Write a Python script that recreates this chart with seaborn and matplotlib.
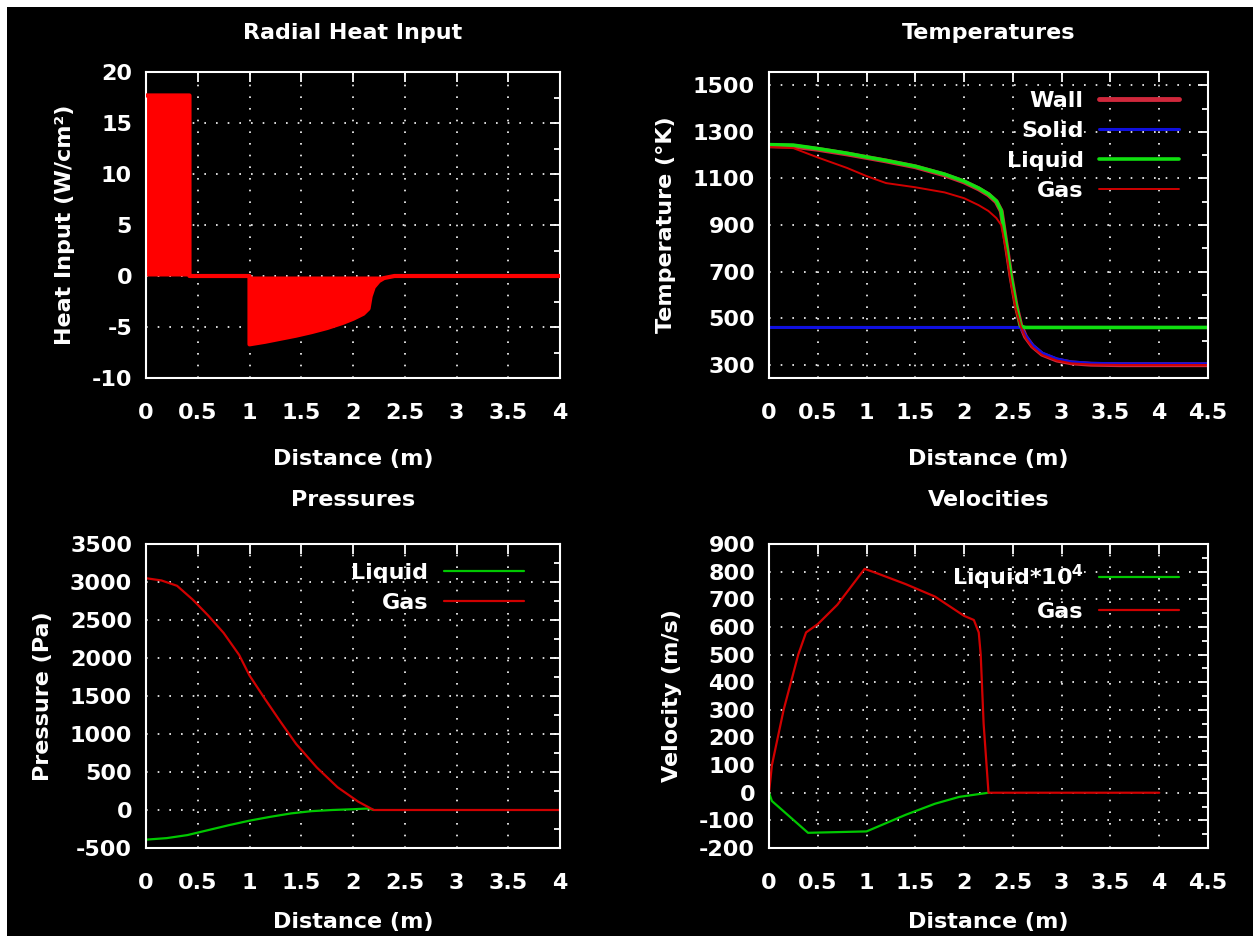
import numpy as np
import pandas as pd
import matplotlib
matplotlib.use("Agg")
import matplotlib.pyplot as plt
from matplotlib.patches import Rectangle
from matplotlib.ticker import FuncFormatter, MultipleLocator, FixedLocator
import seaborn as sns

# ---------------- data ----------------
# Radial heat input (W/cm^2)
heat_x = [0.0, 0.42, 0.42, 1.0, 1.0, 1.15, 1.3, 1.45, 1.6, 1.75, 1.9, 2.0, 2.1, 2.15, 2.17, 2.2, 2.25, 2.3, 2.4, 4.0]
heat_y = [17.7, 17.7, 0.0, 0.0, -6.7, -6.45, -6.15, -5.85, -5.5, -5.1, -4.6, -4.2, -3.7, -3.2, -2.0, -1.1, -0.5, -0.2, 0.0, 0.0]

# Temperatures (K)
temp_x = [0.0, 0.25, 0.5, 0.8, 1.0, 1.2, 1.5, 1.8, 2.0, 2.15, 2.25, 2.33, 2.38, 2.43, 2.48, 2.53, 2.58, 2.63, 2.7, 2.8, 2.95, 3.1, 3.3, 3.6, 4.0, 4.5]
wall_t = [1240, 1238, 1225, 1205, 1190, 1175, 1150, 1115, 1085, 1055, 1030, 1000, 960, 820, 680, 560, 470, 420, 380, 345, 320, 308, 302, 300, 300, 300]
solid_t = [460, 460, 460, 460, 460, 460, 460, 460, 460, 460, 460, 460, 460, 460, 460, 460, 460, 425, 385, 350, 325, 312, 306, 304, 304, 304]
liquid_t = [1245, 1243, 1228, 1208, 1192, 1177, 1152, 1118, 1088, 1058, 1033, 1003, 962, 820, 680, 560, 465, 460, 460, 460, 460, 460, 460, 460, 460, 460]
gas_t = [1235, 1230, 1190, 1145, 1110, 1080, 1062, 1040, 1015, 985, 960, 930, 900, 790, 650, 540, 465, 415, 375, 342, 318, 306, 301, 299, 299, 299]
temp_ticks = [300, 500, 700, 900, 1100, 1300, 1500]

# Pressures (Pa)
pg_x = [0.0, 0.15, 0.3, 0.45, 0.6, 0.75, 0.9, 1.0, 1.15, 1.3, 1.45, 1.65, 1.85, 2.05, 2.2, 4.0]
pg_y = [3050, 3020, 2950, 2770, 2560, 2330, 2040, 1770, 1460, 1160, 870, 560, 300, 110, 0, 0]
pl_x = [0.0, 0.2, 0.4, 0.6, 0.8, 1.0, 1.2, 1.4, 1.6, 1.8, 2.0, 2.15, 2.2]
pl_y = [-390, -370, -330, -265, -200, -140, -90, -45, -15, 0, 10, 20, 0]

# Velocities (m/s)
vg_x = [0.0, 0.03, 0.15, 0.3, 0.38, 0.5, 0.7, 0.98, 1.1, 1.4, 1.7, 1.85, 2.0, 2.1, 2.15, 2.17, 2.2, 2.25, 4.0]
vg_y = [0, 100, 300, 500, 580, 610, 680, 810, 795, 755, 710, 675, 640, 625, 580, 500, 250, 0, 0]
vl_x = [0.0, 0.03, 0.4, 1.0, 1.4, 1.7, 1.95, 2.25]
vl_y = [0, -30, -145, -140, -80, -40, -15, 0]

# ---------------- style ----------------
sns.set_style("dark")
plt.rcParams["font.family"] = ["DejaVu Sans"]
plt.rcParams["font.weight"] = "bold"
FG = "white"
FS_TICK = 16
FS_TEXT = 16

fig = plt.figure(figsize=(12.53, 9.36), dpi=100, facecolor="white")
W, H = 1253, 936
fig.patches.append(Rectangle((7 / W, 0), 1, 1 - 7 / H,
                             transform=fig.transFigure, facecolor="black",
                             edgecolor="none", zorder=-10))


def make_ax(l, r, t, b):
    return fig.add_axes([l / W, 1 - b / H, (r - l) / W, (b - t) / H])


fmt = FuncFormatter(lambda v, _: f"{v:g}")


def style(ax, xlim, ylim, xstep, ystep, yminor, title, ylabel, yticks=None,
          xlabelpad=14, titlepad=24):
    ax.set_facecolor("black")
    ax.set_xlim(*xlim)
    ax.set_ylim(*ylim)
    ax.xaxis.set_major_locator(MultipleLocator(xstep))
    if yticks is not None:
        ax.yaxis.set_major_locator(FixedLocator(yticks))
    else:
        ax.yaxis.set_major_locator(MultipleLocator(ystep))
    if yminor:
        ax.yaxis.set_minor_locator(MultipleLocator(yminor))
    ax.xaxis.set_major_formatter(fmt)
    ax.yaxis.set_major_formatter(fmt)
    for s in ax.spines.values():
        s.set_visible(True)
        s.set_color(FG)
        s.set_linewidth(1.5)
    ax.tick_params(which="both", direction="in", top=True, right=True,
                   colors=FG, labelcolor=FG, labelsize=FS_TICK)
    ax.tick_params(which="major", length=7, width=1.3)
    ax.tick_params(which="minor", length=4, width=1.3)
    ax.tick_params(axis="x", pad=18)
    ax.tick_params(axis="y", pad=10)
    for lab in ax.get_xticklabels() + ax.get_yticklabels():
        lab.set_fontweight("bold")
    ax.grid(True, which="major", color=FG, linestyle=(0, (1, 6)), linewidth=1.2)
    ax.set_axisbelow(True)
    ax.set_title(title, color=FG, fontsize=FS_TEXT, fontweight="bold", pad=titlepad)
    ax.set_xlabel("Distance (m)", color=FG, fontsize=FS_TEXT, fontweight="bold",
                  labelpad=xlabelpad)
    ax.set_ylabel(ylabel, color=FG, fontsize=FS_TEXT, fontweight="bold", labelpad=12)


def legend(ax, anchor):
    leg = ax.legend(loc="upper right", bbox_to_anchor=anchor, frameon=False,
                    markerfirst=False, fontsize=FS_TEXT, handlelength=3.6,
                    labelspacing=0.45, handletextpad=0.7, borderaxespad=0.3)
    for t in leg.get_texts():
        t.set_color(FG)
        t.set_fontweight("bold")
    for col in leg._legend_handle_box.get_children():
        col.align = "right"
    return leg


# ---- Radial heat input ----
ax1 = make_ax(146, 560, 72, 378)
ax1.fill_between(heat_x, heat_y, 0, color="#ff0000", linewidth=0, zorder=2)
sns.lineplot(x=heat_x, y=heat_y, ax=ax1, color="#ff0000", linewidth=3, sort=False,
             estimator=None, zorder=3)
style(ax1, (0, 4), (-10, 20), 0.5, 5, 2.5, "Radial Heat Input", "Heat Input (W/cm\u00b2)",
      xlabelpad=19)

# ---- Temperatures ----
ax2 = make_ax(769, 1208, 72, 378)
sns.lineplot(x=temp_x, y=wall_t, ax=ax2, color="#d0283c", linewidth=3.5, label="Wall",
             sort=False, estimator=None)
sns.lineplot(x=temp_x, y=solid_t, ax=ax2, color="#1010e0", linewidth=2.2, label="Solid",
             sort=False, estimator=None)
sns.lineplot(x=temp_x, y=liquid_t, ax=ax2, color="#10e010", linewidth=2.6, label="Liquid",
             sort=False, estimator=None)
sns.lineplot(x=temp_x, y=gas_t, ax=ax2, color="#d00000", linewidth=1.4, label="Gas",
             sort=False, estimator=None)
style(ax2, (0, 4.5), (243, 1557), 0.5, 200, 100, "Temperatures", "Temperature (\u00b0K)",
      yticks=temp_ticks, xlabelpad=19)
legend(ax2, (0.97, 0.99))

# ---- Pressures ----
ax3 = make_ax(146, 560, 544, 848)
sns.lineplot(x=pl_x, y=pl_y, ax=ax3, color="#00c800", linewidth=1.6, label="Liquid",
             sort=False, estimator=None)
sns.lineplot(x=pg_x, y=pg_y, ax=ax3, color="#d00000", linewidth=1.6, label="Gas",
             sort=False, estimator=None)
style(ax3, (0, 4), (-500, 3500), 0.5, 500, 250, "Pressures", "Pressure (Pa)", titlepad=27)
legend(ax3, (0.95, 0.99))

# ---- Velocities ----
ax4 = make_ax(769, 1208, 544, 848)
sns.lineplot(x=vl_x, y=vl_y, ax=ax4, color="#00c800", linewidth=1.6, label="Liquid*10$^{4}$",
             sort=False, estimator=None)
sns.lineplot(x=vg_x, y=vg_y, ax=ax4, color="#d00000", linewidth=1.6, label="Gas",
             sort=False, estimator=None)
style(ax4, (0, 4.5), (-200, 900), 0.5, 100, 50, "Velocities", "Velocity (m/s)", titlepad=27)
legend(ax4, (0.97, 0.99))

fig.savefig("out.png", dpi=100, facecolor=fig.get_facecolor())
